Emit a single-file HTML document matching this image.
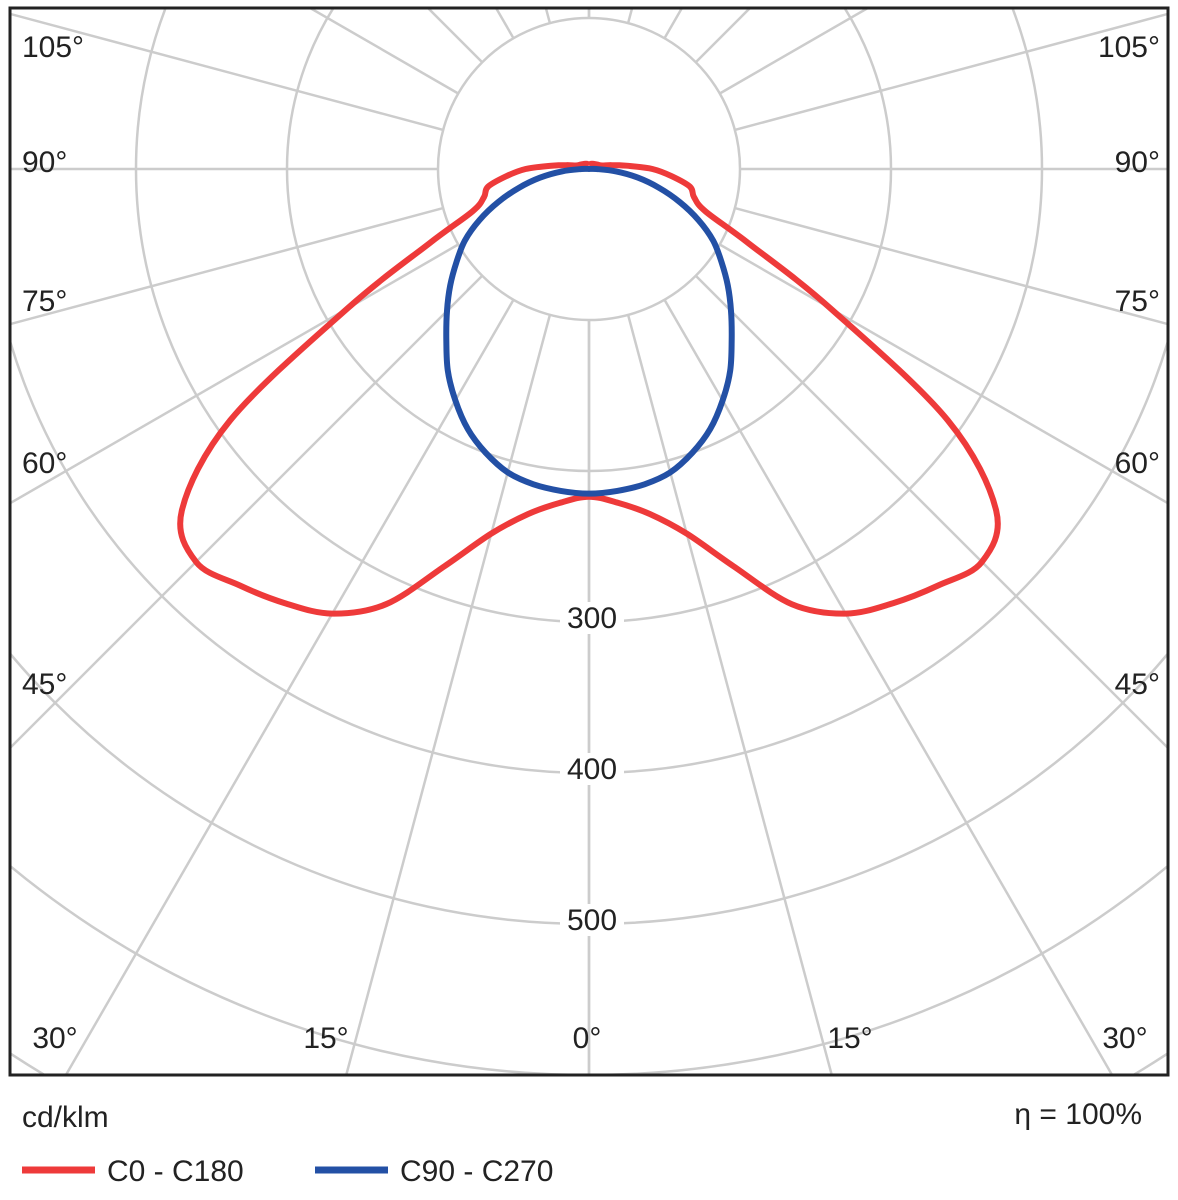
<!DOCTYPE html>
<html><head><meta charset="utf-8"><style>
html,body{margin:0;padding:0;background:#fff;overflow:hidden;}
svg{display:block;}
svg text{font-family:"Liberation Sans",sans-serif;fill:#222;}
</style></head><body>
<svg id="chart" width="1178" height="1200" viewBox="0 0 1178 1200" xmlns="http://www.w3.org/2000/svg">
<defs><clipPath id="frameClip"><rect x="11" y="9" width="1156" height="1065"/></clipPath></defs>
<g id="grid" clip-path="url(#frameClip)"></g>
<g id="curves" clip-path="url(#frameClip)"></g>
<g id="labels"></g>
<rect x="10" y="8" width="1158" height="1067" fill="none" stroke="#222" stroke-width="3"/>
<text x="22" y="1127" font-size="30">cd/klm</text>
<text x="1142" y="1124" font-size="30" text-anchor="end">η = 100%</text>
<line x1="22" y1="1170" x2="95" y2="1170" stroke="#ee3a3a" stroke-width="7"/>
<text x="107" y="1181" font-size="30">C0 - C180</text>
<line x1="315" y1="1170" x2="388" y2="1170" stroke="#2350a5" stroke-width="7"/>
<text x="400" y="1181" font-size="30">C90 - C270</text>
</svg>
<script>
const angles = [0,5,10,15,20,25,30,35,40,45,50,55,60,65,70,75,80,85,90,95,100,105,120,150,180];
const redValues = [217,222,232,250,280,318,340,351,360,368,352,290,185,117,82,72,68,55,42,25,15,9,6,4,3];
const blueValues = [215,214,212,208,200,190,177,163,147,133,120,107,95,80,64,48,33,18,5,0,0,0,0,0,0];
const ringValues = [100,200,300,400,500,600,700,800];
const ringLabels = ["300","400","500"];
const ringLabelValues = [300,400,500];
const spokeAngles = [0,15,30,45,60,75,90,105,120,135,150,165,180];
const angleLabels = ["105°","90°","75°","60°","45°","30°"];

const cx = 589, cy = 169, pxPerUnit = 1.51;
const NS = "http://www.w3.org/2000/svg";
function rad(v){ return v*pxPerUnit; }
function pt(theta, r, side){ const a = theta*Math.PI/180; return [cx + side*rad(r)*Math.sin(a), cy + rad(r)*Math.cos(a)]; }

const grid = document.getElementById('grid');
ringValues.forEach(v=>{
  const c = document.createElementNS(NS,'circle');
  c.setAttribute('cx',cx); c.setAttribute('cy',cy); c.setAttribute('r',rad(v));
  c.setAttribute('fill','none'); c.setAttribute('stroke','#cccccc'); c.setAttribute('stroke-width','2.5');
  
  
  grid.appendChild(c);
});
spokeAngles.forEach(a=>{
  [-1,1].forEach(side=>{
    const p1 = pt(a,100,side), p2 = pt(a,900,side);
    const l = document.createElementNS(NS,'line');
    l.setAttribute('x1',p1[0]); l.setAttribute('y1',p1[1]); l.setAttribute('x2',p2[0]); l.setAttribute('y2',p2[1]);
    l.setAttribute('stroke','#cccccc'); l.setAttribute('stroke-width','2.5');
    
    
    grid.appendChild(l);
  });
});

function curvePath(vals){
  const pts=[];
  for(let i=angles.length-1;i>=0;i--) pts.push(pt(angles[i],vals[i],-1));
  for(let i=1;i<angles.length;i++) pts.push(pt(angles[i],vals[i],1));
  let d = 'M'+pts[0][0].toFixed(1)+','+pts[0][1].toFixed(1);
  for(let i=0;i<pts.length-1;i++){
    const p0 = pts[Math.max(i-1,0)], p1 = pts[i], p2 = pts[i+1], p3 = pts[Math.min(i+2,pts.length-1)];
    const c1 = [p1[0]+(p2[0]-p0[0])/6, p1[1]+(p2[1]-p0[1])/6];
    const c2 = [p2[0]-(p3[0]-p1[0])/6, p2[1]-(p3[1]-p1[1])/6];
    d += ' C'+c1[0].toFixed(1)+','+c1[1].toFixed(1)+' '+c2[0].toFixed(1)+','+c2[1].toFixed(1)+' '+p2[0].toFixed(1)+','+p2[1].toFixed(1);
  }
  return d;
}
const curves = document.getElementById('curves');
const red = document.createElementNS(NS,'path');
red.setAttribute('d',curvePath(redValues));
red.setAttribute('fill','none'); red.setAttribute('stroke','#ee3a3a'); red.setAttribute('stroke-width','6'); red.setAttribute('stroke-linejoin','round');


curves.appendChild(red);
const blue = document.createElementNS(NS,'path');
blue.setAttribute('d',curvePath(blueValues));
blue.setAttribute('fill','none'); blue.setAttribute('stroke','#2350a5'); blue.setAttribute('stroke-width','6'); blue.setAttribute('stroke-linejoin','round');


curves.appendChild(blue);

const labels = document.getElementById('labels');
function addText(x,y,t,anchor,name,bg){
  if(bg){
    const r = document.createElementNS(NS,'rect');
    r.setAttribute('x',x-32); r.setAttribute('y',y-26); r.setAttribute('width',64); r.setAttribute('height',32); r.setAttribute('fill','#fff');
    labels.appendChild(r);
  }
  const e = document.createElementNS(NS,'text');
  e.setAttribute('x',x); e.setAttribute('y',y); e.setAttribute('font-size','30'); e.setAttribute('text-anchor',anchor);
  e.textContent = t;
  
  
  labels.appendChild(e);
}
ringLabels.forEach((t,i)=>{ addText(cx+3, cy+rad(ringLabelValues[i])+6, t, 'middle', 'ring-label-'+t, true); });
const leftYs = [57,172,311,473,694];
angleLabels.slice(0,5).forEach((t,i)=>{
  addText(22, leftYs[i], t, 'start', 'angle-label-left-'+i, false);
  addText(1160, leftYs[i], t, 'end', 'angle-label-right-'+i, false);
});
addText(55,1048,"30°",'middle','angle-label-bottom-30-left',false);
addText(326,1048,"15°",'middle','angle-label-bottom-15-left',false);
addText(587,1048,"0°",'middle','angle-label-bottom-0',false);
addText(850,1048,"15°",'middle','angle-label-bottom-15-right',false);
addText(1125,1048,"30°",'middle','angle-label-bottom-30-right',false);
</script>
</body></html>
